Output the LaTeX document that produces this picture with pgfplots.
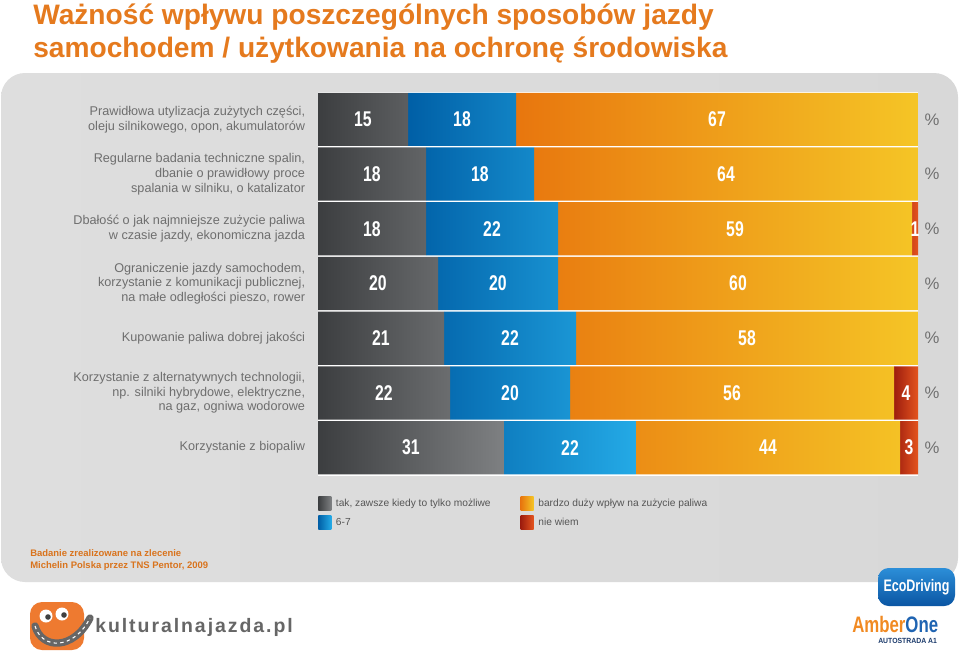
\documentclass[border=0pt]{standalone}
\usepackage{pgfplots}
\pgfplotsset{compat=1.18}
\usepackage{pgfplotstable}
\usepackage{fontspec}
\setmainfont{Liberation Sans}
\newfontfamily\numfont{Liberation Sans}[FakeStretch=0.74]
\newfontfamily\logofont{Liberation Sans}[FakeStretch=0.75]
\newfontfamily\smallfont{Liberation Sans}[FakeStretch=0.92]
\newfontfamily\kfont{Liberation Sans}[LetterSpace=10]

\definecolor{titleor}{HTML}{E57A1E}
\definecolor{footor}{HTML}{D9731C}
\definecolor{labgrey}{HTML}{6E6E6E}
\definecolor{leggrey}{HTML}{555555}
\definecolor{pgrey}{HTML}{707070}
\definecolor{g1}{HTML}{3C3E40}
\definecolor{g2}{HTML}{7E8082}
\definecolor{b1}{HTML}{005FA6}
\definecolor{b2}{HTML}{24AAE6}
\definecolor{o1}{HTML}{E8760E}
\definecolor{o3}{HTML}{F2AE1C}
\definecolor{o2}{HTML}{F5C526}
\definecolor{r1}{HTML}{9E1D0E}
\definecolor{r2}{HTML}{E4541E}
\definecolor{pan1}{HTML}{DEDEDE}
\definecolor{pan2}{HTML}{EEEEEE}
\definecolor{pan3}{HTML}{D8D8D8}
\definecolor{kor}{HTML}{EE7A30}
\definecolor{kgrey}{HTML}{666666}
\definecolor{ecob1}{HTML}{2C8ED8}
\definecolor{ecob2}{HTML}{0A55A3}
\definecolor{amb}{HTML}{F18A22}
\definecolor{oneb}{HTML}{1F64B2}
\definecolor{navy}{HTML}{1B3A6B}

% row: category index; a..d: segment widths as drawn; la..ld: printed labels
\pgfplotstableread{
row a  b  c  d  la lb lc ld
1   15 18 67 0  15 18 67 {}
2   18 18 64 0  18 18 64 {}
3   18 22 59 1  18 22 59 1
4   20 20 60 0  20 20 60 {}
5   21 22 57 0  21 22 58 {}
6   22 20 54 4  22 20 56 4
7   31 22 44 3  31 22 44 3
}\datatable

\begin{document}
\begin{tikzpicture}
\begin{scope}[x=0.75pt,y=-0.75pt]
  \fill[white] (0,0) rectangle (960,651);
  \shade[left color=pan1, middle color=pan2, right color=pan3, rounded corners=18] (1,73) rectangle (958,582);
  \fill[white] (318,92) rectangle (918,476);
  % title
  \node[anchor=base west, inner sep=0pt, font=\bfseries\fontsize{21.1pt}{24pt}\selectfont, text=titleor] at (33,24) {Ważność wpływu poszczególnych sposobów jazdy};
  \node[anchor=base west, inner sep=0pt, font=\bfseries\fontsize{21.1pt}{24pt}\selectfont, text=titleor] at (33,57) {samochodem / użytkowania na ochronę środowiska};
  % footnote
  \node[anchor=base west, inner sep=0pt, font=\bfseries\fontsize{7.1pt}{9pt}\selectfont, text=footor] at (30,556) {Badanie zrealizowane na zlecenie};
  \node[anchor=base west, inner sep=0pt, font=\bfseries\fontsize{7.1pt}{9pt}\selectfont, text=footor] at (30,568) {Michelin Polska przez TNS Pentor, 2009};
  % kulturalnajazda logo
  \fill[kor, rounded corners=9] (30,602) rectangle (84,650);
  \fill[white] (46,616) circle (6.5);
  \fill[white] (62,614) circle (6.5);
  \fill[black!75] (48,617) circle (2.8);
  \fill[black!75] (64,615) circle (2.8);
  \draw[kgrey, line width=5.5pt, line cap=round] (35,626) .. controls (42,650) and (74,650) .. (90,618);
  \draw[white, line width=0.8pt, dash pattern=on 2.5pt off 2.5pt] (35,626) .. controls (42,650) and (74,650) .. (90,618);
  \node[anchor=base west, inner sep=0pt, font=\kfont\bfseries\fontsize{14.6pt}{18pt}\selectfont, text=kgrey] at (95,632) {kulturalnajazda.pl};
  % EcoDriving / AmberOne
  \shade[top color=ecob1, bottom color=ecob2, rounded corners=8] (878,568) rectangle (955,606);
  \node[inner sep=0pt, font=\logofont\bfseries\fontsize{12.5pt}{14pt}\selectfont, text=white] at (916.5,587) {EcoDriving};
  \node[anchor=base west, inner sep=0pt, font=\logofont\bfseries\fontsize{16.8pt}{20pt}\selectfont] at (852,632) {\textcolor{amb}{Amber}\textcolor{oneb}{One}};
  \node[anchor=base west, inner sep=0pt, font=\smallfont\bfseries\fontsize{5.6pt}{6pt}\selectfont, text=navy] at (878,643) {AUTOSTRADA A1};
\end{scope}

\begin{axis}[
  at={({318*0.75pt},{-92*0.75pt})}, anchor=north west,
  scale only axis, width=450pt, height=287.25pt,
  xbar stacked, bar width=39.9pt,
  xmin=0, xmax=100, ymin=0.5, ymax=7.5, y dir=reverse,
  axis line style={draw=none}, major tick length=0pt,
  xtick=\empty, ytick={1,...,7},
  yticklabels={
    {Prawidłowa utylizacja zużytych części,\\oleju silnikowego, opon, akumulatorów},
    {Regularne badania techniczne spalin,\\dbanie o prawidłowy proce\\spalania w silniku, o katalizator},
    {Dbałość o jak najmniejsze zużycie paliwa\\w czasie jazdy, ekonomiczna jazda},
    {Ograniczenie jazdy samochodem,\\korzystanie z komunikacji publicznej,\\na małe odległości pieszo, rower},
    {Kupowanie paliwa dobrej jakości},
    {Korzystanie z alternatywnych technologii,\\np. silniki hybrydowe, elektryczne,\\na gaz, ogniwa wodorowe},
    {Korzystanie z biopaliw}},
  yticklabel style={anchor=east, align=right, inner sep=0pt, xshift=-9.5pt,
    font=\fontsize{9.5pt}{11pt}\selectfont, text=labgrey},
  clip=false,
  point meta=explicit symbolic,
  nodes near coords,
  every node near coord/.append style={anchor=center, text=white,
    font=\numfont\bfseries\fontsize{16pt}{16pt}\selectfont},
  legend cell align=left,
  transpose legend, legend columns=2,
  legend image code/.code={\path[#1, draw=none] (0pt,-5.25pt) rectangle (9.75pt,5.25pt);},
  legend style={at={(rel axis cs:0,0)}, anchor=north west, yshift=-16pt,
    draw=none, fill=none, inner sep=0pt, row sep=4pt,
    font=\fontsize{7.65pt}{9pt}\selectfont, text=leggrey,
    nodes={inner sep=1pt},
    /tikz/every odd column/.append style={column sep=2.5pt},
    /tikz/every even column/.append style={column sep=21.5pt}},
]
\addplot[draw=none, left color=g1, right color=g2] table[x=a, y=row, meta=la] {\datatable};
\addlegendentry{tak, zawsze kiedy to tylko możliwe}
\addplot[draw=none, left color=b1, right color=b2] table[x=b, y=row, meta=lb] {\datatable};
\addlegendentry{6-7}
\addplot[draw=none, left color=o1, middle color=o3, right color=o2] table[x=c, y=row, meta=lc] {\datatable};
\addlegendentry{bardzo duży wpływ na zużycie paliwa}
\addplot[draw=none, left color=r1, right color=r2] table[x=d, y=row, meta=ld] {\datatable};
\addlegendentry{nie wiem}
\pgfplotsinvokeforeach{1,...,7}{
  \node[text=pgrey, font=\fontsize{12.5pt}{13pt}\selectfont] at (axis cs:100,#1) [xshift=10.5pt] {\%};
}
\end{axis}
\end{tikzpicture}
\end{document}
